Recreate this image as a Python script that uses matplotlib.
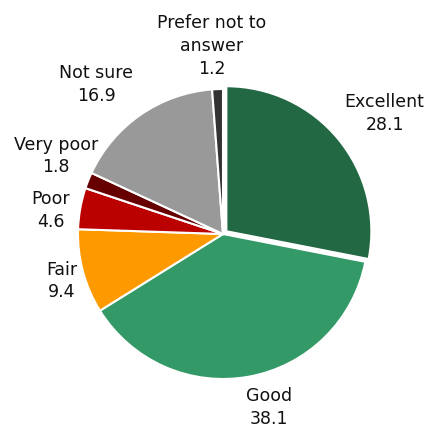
import numpy as np
import matplotlib.pyplot as plt

labels = ["Excellent", "Good", "Fair", "Poor", "Very poor", "Not sure", "Prefer not to\nanswer"]
values = [28.1, 38.1, 9.4, 4.6, 1.8, 16.9, 1.2]
colors = ["#226843", "#339966", "#FF9900", "#BB0000", "#660000", "#999999", "#333333"]
explode = [0.03, 0, 0, 0, 0, 0, 0]
# label placement: distance (in radii) and angular nudge (deg) from wedge middle
label_dist = [1.39, 1.24, 1.16, 1.20, 1.27, 1.35, 1.30]
label_nudge = [-2.8, 4.5, 1.2, 2.4, -3.4, 5.6, 1.2]

W, H = 432, 430
fig = plt.figure(figsize=(W / 100, H / 100), dpi=100)
cx, cy, r = 223, 234, 145
ax = fig.add_axes([(cx - r) / W, 1 - (cy + r) / H, 2 * r / W, 2 * r / H])

wedges, _ = ax.pie(values, colors=colors, startangle=90, counterclock=False,
                   explode=explode, radius=1,
                   wedgeprops=dict(edgecolor="white", linewidth=1.5))

for w, lab, v, d, nd in zip(wedges, labels, values, label_dist, label_nudge):
    ang = np.deg2rad((w.theta1 + w.theta2) / 2 + nd)
    ax.text(d * np.cos(ang), d * np.sin(ang), f"{lab}\n{v}", ha="center", va="center",
            fontsize=12.5, color="#111111", linespacing=1.35)

ax.set_xlim(-1, 1)
ax.set_ylim(-1, 1)
ax.set_aspect("equal")
ax.axis("off")

fig.savefig("out.png", dpi=100)
